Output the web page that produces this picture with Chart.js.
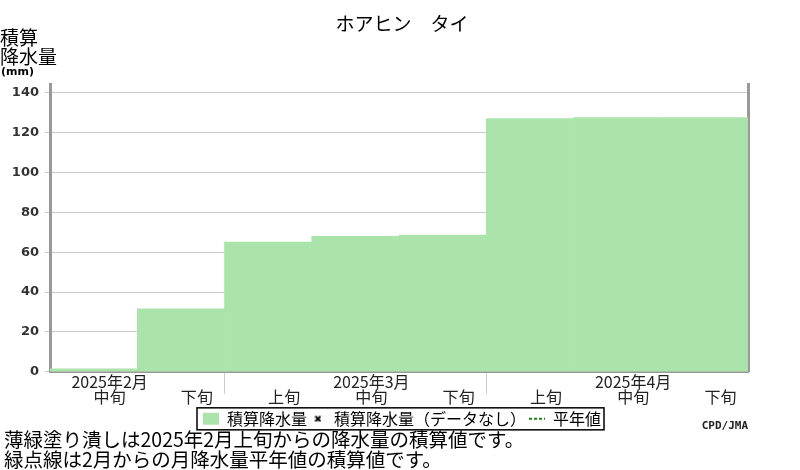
<!DOCTYPE html>
<html lang="ja">
<head>
<meta charset="utf-8">
<script src="https://cdn.jsdelivr.net/npm/chart.js@4.4.1/dist/chart.umd.min.js"></script>
<style>
  html, body { margin: 0; padding: 0; background: #fff; }
  #wrap { width: 800px; height: 470px; }
</style>
</head>
<body>
<div id="wrap"><canvas id="rainChart"></canvas></div>
<script>
// 旬ごとの積算降水量 (mm)
const monthLabels = ['2025年2月', '', '', '2025年3月', '', '', '2025年4月', ''];
const junLabels = ['中旬', '下旬', '上旬', '中旬', '下旬', '上旬', '中旬', '下旬'];
const rainTotals = [1.5, 31.6, 65.1, 68.0, 68.6, 127.0, 127.5, 127.6];
const yTicks = [0, 20, 40, 60, 80, 100, 120, 140];
const yMax = 144;

const JP_FONT = "'Noto Sans CJK JP', 'Noto Sans', sans-serif";

// small "x" marker for the legend
function makeXMark() {
    const c = document.createElement('canvas');
    c.width = 7;
    c.height = 7;
    const g = c.getContext('2d');
    g.strokeStyle = '#000';
    g.lineWidth = 2;
    g.beginPath();
    g.moveTo(1, 1); g.lineTo(6, 6);
    g.moveTo(6, 1); g.lineTo(1, 6);
    g.stroke();
    return c;
}

// axis title, credit and legend frame
const decor = {
    id: 'decor',
    afterDraw(chart) {
        const ctx = chart.ctx;
        const area = chart.chartArea;
        ctx.save();
        ctx.fillStyle = '#000';
        ctx.textAlign = 'left';
        ctx.textBaseline = 'top';
        ctx.font = `19px ${JP_FONT}`;
        ctx.fillText('積算', 0, area.top - 57);
        ctx.fillText('降水量', 0, area.top - 38);
        ctx.font = "bold 11px 'DejaVu Sans'";
        ctx.fillText('(mm)', 1, area.top - 18);

        const boxes = chart.legend.legendHitBoxes;
        if (boxes && boxes.length) {
            const left = Math.min(...boxes.map(b => b.left)) - 6;
            const right = Math.max(...boxes.map(b => b.left + b.width)) + 3;
            const top = Math.min(...boxes.map(b => b.top)) - 3;
            const bottom = Math.max(...boxes.map(b => b.top + b.height)) + 3;
            ctx.strokeStyle = '#000';
            ctx.lineWidth = 1.5;
            ctx.strokeRect(left, top, right - left, bottom - top);

            ctx.font = "bold 11px 'DejaVu Sans Mono'";
            ctx.textAlign = 'right';
            ctx.textBaseline = 'middle';
            ctx.fillStyle = '#222';
            ctx.fillText('CPD/JMA', area.right, (top + bottom) / 2 + 7);
        }
        ctx.restore();
    }
};

const ctx = document.getElementById('rainChart').getContext('2d');

new Chart(ctx, {
    type: 'bar',
    data: {
        labels: monthLabels.map((m, i) => [m, junLabels[i]]),
        datasets: [
            {
                label: '積算降水量',
                data: rainTotals,
                backgroundColor: '#abe4ab',
                borderWidth: 0,
                barPercentage: 1,
                categoryPercentage: 1,
                pointStyle: 'rect'
            },
            {
                type: 'line',
                label: '積算降水量（データなし）',
                data: [],
                showLine: false,
                borderColor: '#000',
                backgroundColor: '#000',
                pointStyle: makeXMark()
            },
            {
                type: 'line',
                label: '平年値',
                data: [],
                borderColor: '#118811',
                borderWidth: 2,
                borderDash: [3, 2],
                pointStyle: 'line'
            }
        ]
    },
    options: {
        responsive: true,
        maintainAspectRatio: false,
        animation: false,
        layout: {
            padding: { left: 4, right: 0, bottom: 0 }
        },
        plugins: {
            title: {
                display: true,
                text: 'ホアヒン　タイ',
                color: '#000',
                font: { family: JP_FONT, size: 19, weight: 'normal' },
                padding: { top: 12, bottom: 50 }
            },
            subtitle: {
                display: true,
                position: 'bottom',
                align: 'start',
                text: [
                    '薄緑塗り潰しは2025年2月上旬からの降水量の積算値です。',
                    '緑点線は2月からの月降水量平年値の積算値です。'
                ],
                color: '#000',
                font: { family: JP_FONT, size: 19.5, weight: 'normal', lineHeight: 1.03 },
                padding: { top: -7, bottom: 0 }
            },
            legend: {
                position: 'bottom',
                labels: {
                    usePointStyle: true,
                    pointStyleWidth: 16,
                    boxHeight: 12,
                    padding: 3,
                    color: '#000',
                    font: { family: JP_FONT, size: 16 },
                    generateLabels(chart) {
                        const items = Chart.defaults.plugins.legend.labels.generateLabels(chart);
                        items.forEach(item => {
                            const ds = chart.data.datasets[item.datasetIndex];
                            item.lineDash = ds.borderDash || [];
                            if (ds.borderWidth) item.lineWidth = ds.borderWidth;
                        });
                        return items;
                    }
                }
            },
            tooltip: { enabled: false }
        },
        scales: {
            x: {
                afterFit: axis => { axis.height = 36; },
                grid: {
                    offset: true,
                    drawOnChartArea: false,
                    tickLength: 22,
                    color: c => (c.index === junLabels.length || junLabels[c.index] === '上旬') ? '#cccccc' : 'rgba(0,0,0,0)'
                },
                border: { color: '#999', width: 3 },
                ticks: {
                    maxRotation: 0,
                    autoSkip: false,
                    labelOffset: 16,
                    padding: -19,
                    color: '#222',
                    font: { family: JP_FONT, size: 16, lineHeight: 0.9 }
                }
            },
            y: {
                min: 0,
                max: yMax,
                afterFit: axis => { axis.width = 46; },
                afterBuildTicks: axis => {
                    axis.ticks = yTicks.map(v => ({ value: v }));
                },
                grid: { color: '#cccccc', tickLength: 5 },
                border: { color: '#999', width: 3 },
                ticks: {
                    padding: 6,
                    color: '#333',
                    font: { family: "'DejaVu Sans'", size: 13, weight: 'bold' }
                }
            },
            y2: {
                position: 'right',
                afterFit: axis => { axis.width = 52; },
                grid: { display: false, drawTicks: false },
                border: { color: '#999', width: 3 },
                ticks: { display: false }
            }
        }
    },
    plugins: [decor]
});
</script>
</body>
</html>
